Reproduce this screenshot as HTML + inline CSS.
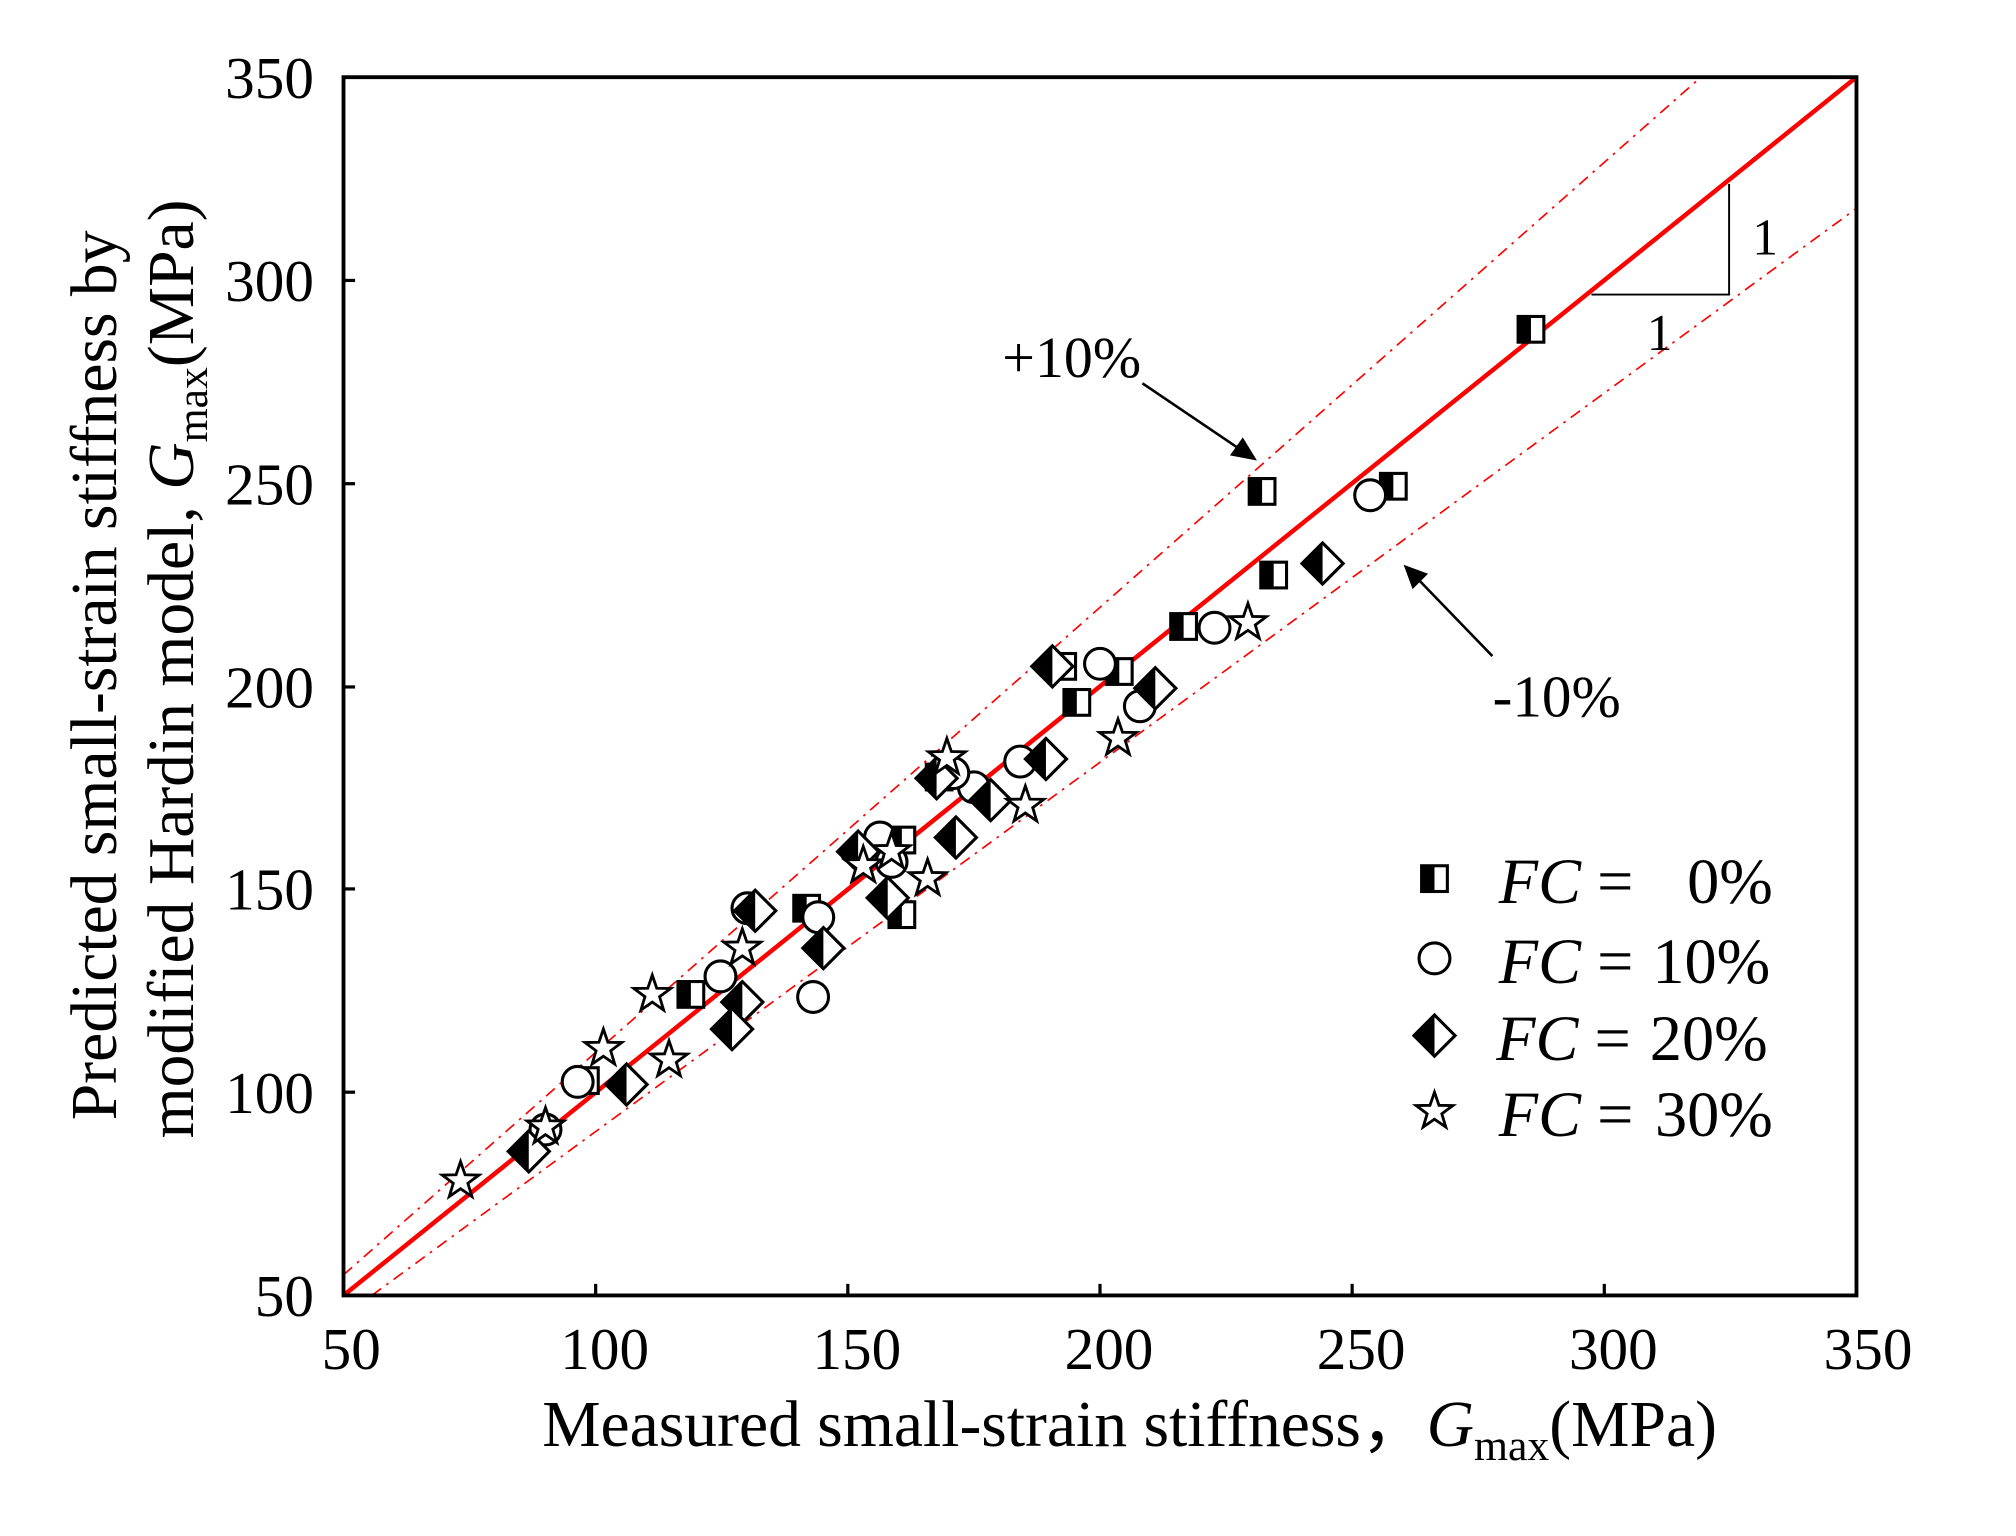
<!DOCTYPE html>
<html><head><meta charset="utf-8"><style>
html,body{margin:0;padding:0;background:#fff;}
svg{display:block;}
text{font-family:"Liberation Serif","Times New Roman",serif;fill:#000;}
</style></head><body>
<svg width="2016" height="1536" viewBox="0 0 1567 1194" preserveAspectRatio="none" xmlns="http://www.w3.org/2000/svg">
<defs>
<clipPath id="pc"><rect x="267" y="60" width="1176" height="947"/></clipPath>
<g id="sq"><rect x="-10" y="-10" width="20" height="20" fill="#fff" stroke="#000" stroke-width="2.4"/><rect x="-10" y="-10" width="10" height="20" fill="#000"/></g>
<g id="ci"><circle r="12" fill="#fff" stroke="#000" stroke-width="2.4"/></g>
<g id="di"><path d="M0,-16 L16,0 L0,16 L-16,0Z" fill="#fff" stroke="#000" stroke-width="2.4"/><path d="M0,-16 L0,16 L-16,0Z" fill="#000"/></g>
<g id="st"><path d="M0,-15 L3.5,-4.8 L14.3,-4.6 L5.7,1.8 L8.8,12.1 L0,6 L-8.8,12.1 L-5.7,1.8 L-14.3,-4.6 L-3.5,-4.8Z" fill="#fff" stroke="#000" stroke-width="2.2" stroke-linejoin="miter"/></g>
</defs>
<g clip-path="url(#pc)">
<line x1="267" y1="1007" x2="1443" y2="60" stroke="#f00" stroke-width="3.5"/>
<line x1="267" y1="991" x2="1322" y2="60" stroke="#f00" stroke-width="1.3" stroke-dasharray="9,5,2,5"/>
<line x1="289" y1="1007" x2="1443" y2="162" stroke="#f00" stroke-width="1.3" stroke-dasharray="9,5,2,5"/>
</g>
<polyline points="1237,229 1344,229 1344,143" fill="none" stroke="#000" stroke-width="1.5"/>
<text x="1372" y="198" font-size="40" text-anchor="middle">1</text>
<text x="1290" y="272" font-size="40" text-anchor="middle">1</text>
<g>
<use href="#sq" x="1190" y="256"/><use href="#sq" x="981" y="382"/><use href="#sq" x="1083" y="378"/><use href="#sq" x="990" y="447"/><use href="#sq" x="920" y="487"/><use href="#sq" x="870" y="522"/><use href="#sq" x="826" y="518"/><use href="#sq" x="837" y="546"/><use href="#sq" x="701" y="653"/><use href="#sq" x="627" y="706"/><use href="#sq" x="701" y="711"/><use href="#sq" x="537" y="773"/><use href="#sq" x="730" y="604"/><use href="#sq" x="455" y="840"/>
<use href="#ci" x="1065" y="385"/><use href="#ci" x="944" y="488"/><use href="#ci" x="855" y="516"/><use href="#ci" x="886" y="549"/><use href="#ci" x="793" y="592"/><use href="#ci" x="757" y="612"/><use href="#ci" x="741" y="601"/><use href="#ci" x="684" y="651"/><use href="#ci" x="693" y="670"/><use href="#ci" x="636" y="713"/><use href="#ci" x="632" y="775"/><use href="#ci" x="560" y="759"/><use href="#ci" x="449" y="841"/><use href="#ci" x="424" y="878"/><use href="#ci" x="581" y="706"/>
<use href="#di" x="1028" y="438"/><use href="#di" x="898" y="535"/><use href="#di" x="818" y="518"/><use href="#di" x="813" y="590"/><use href="#di" x="770" y="622"/><use href="#di" x="743" y="651"/><use href="#di" x="728" y="605"/><use href="#di" x="690" y="698"/><use href="#di" x="667" y="662"/><use href="#di" x="640" y="737"/><use href="#di" x="587" y="708"/><use href="#di" x="577" y="779"/><use href="#di" x="569" y="800"/><use href="#di" x="487" y="843"/><use href="#di" x="411" y="895"/>
<use href="#st" x="970" y="484"/><use href="#st" x="869" y="574"/><use href="#st" x="797" y="626"/><use href="#st" x="736" y="589"/><use href="#st" x="721" y="683"/><use href="#st" x="671" y="673"/><use href="#st" x="693" y="662"/><use href="#st" x="577" y="737"/><use href="#st" x="507" y="773"/><use href="#st" x="469" y="815"/><use href="#st" x="520" y="824"/><use href="#st" x="424" y="876"/><use href="#st" x="358" y="918"/>
</g>
<rect x="267" y="60" width="1176" height="947" fill="none" stroke="#000" stroke-width="3"/>
<g stroke="#000" stroke-width="2.5">
<line x1="463" y1="1007" x2="463" y2="998"/><line x1="659" y1="1007" x2="659" y2="998"/><line x1="855" y1="1007" x2="855" y2="998"/><line x1="1051" y1="1007" x2="1051" y2="998"/><line x1="1247" y1="1007" x2="1247" y2="998"/>
<line x1="267" y1="849" x2="276" y2="849"/><line x1="267" y1="691" x2="276" y2="691"/><line x1="267" y1="534" x2="276" y2="534"/><line x1="267" y1="376" x2="276" y2="376"/><line x1="267" y1="218" x2="276" y2="218"/>
</g>
<g font-size="46" text-anchor="middle">
<text x="273" y="1064">50</text><text x="470" y="1064">100</text><text x="666" y="1064">150</text><text x="862" y="1064">200</text><text x="1058" y="1064">250</text><text x="1254" y="1064">300</text><text x="1452" y="1064">350</text>
</g>
<g font-size="46" text-anchor="end">
<text x="244" y="1023">50</text><text x="244" y="865">100</text><text x="244" y="707">150</text><text x="244" y="550">200</text><text x="244" y="392">250</text><text x="244" y="234">300</text><text x="244" y="76">350</text>
</g>
<text x="878" y="1124" font-size="51" text-anchor="middle">Measured small-strain stiffness，<tspan font-style="italic">G</tspan><tspan font-size="34" dy="11">max</tspan><tspan dy="-11">(MPa)</tspan></text>
<g transform="translate(90,525) rotate(-90)"><text x="0" y="0" font-size="51" text-anchor="middle">Predicted small-strain stiffness by</text></g>
<g transform="translate(150,520) rotate(-90)"><text x="0" y="0" font-size="51" text-anchor="middle">modified Hardin model, <tspan font-style="italic">G</tspan><tspan font-size="34" dy="11">max</tspan><tspan dy="-11">(MPa)</tspan></text></g>
<text x="833" y="293" font-size="45" text-anchor="middle">+10%</text>
<line x1="888" y1="298" x2="962" y2="348" stroke="#000" stroke-width="2"/>
<path d="M977,358 L956,354 L966,340Z" fill="#000"/>
<text x="1210" y="557" font-size="46" text-anchor="middle">-10%</text>
<line x1="1160" y1="510" x2="1102" y2="450" stroke="#000" stroke-width="2"/>
<path d="M1091,439 L1110,446 L1098,458Z" fill="#000"/>
<use href="#sq" x="1115" y="683"/><use href="#ci" x="1115" y="745"/><use href="#di" x="1115" y="805"/><use href="#st" x="1115" y="864"/>
<g font-size="50">
<text x="1165" y="702"><tspan font-style="italic">FC</tspan> =</text><text x="1378" y="702" text-anchor="end">0%</text>
<text x="1165" y="764"><tspan font-style="italic">FC</tspan> =</text><text x="1376" y="764" text-anchor="end">10%</text>
<text x="1163" y="824"><tspan font-style="italic">FC</tspan> =</text><text x="1374" y="824" text-anchor="end">20%</text>
<text x="1165" y="883"><tspan font-style="italic">FC</tspan> =</text><text x="1378" y="883" text-anchor="end">30%</text>
</g>
</svg>
</body></html>
